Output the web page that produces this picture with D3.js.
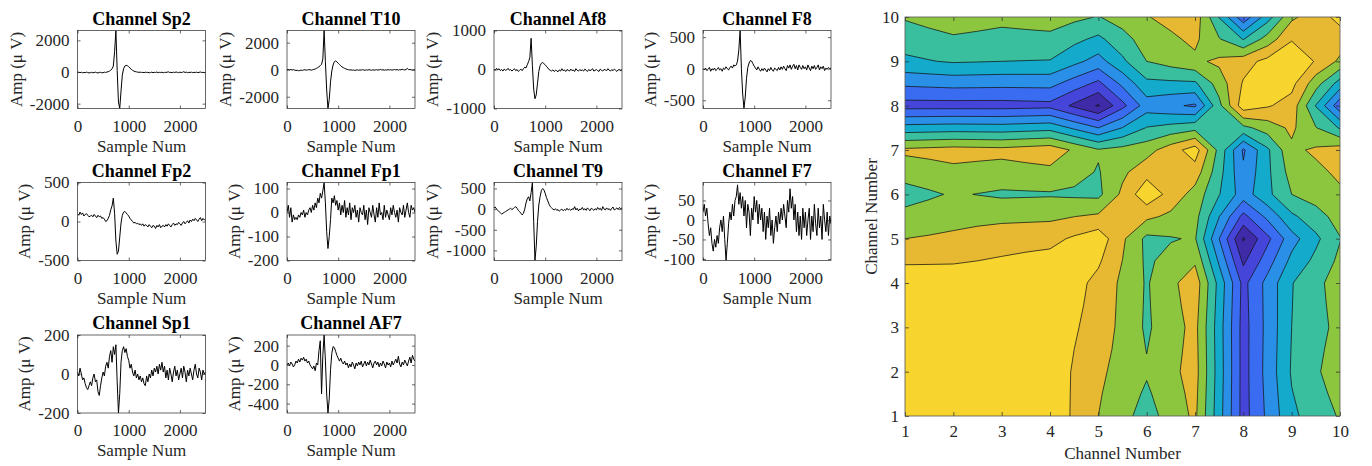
<!DOCTYPE html>
<html>
<head>
<meta charset="utf-8">
<script src="https://cdn.jsdelivr.net/npm/d3@7"></script>
<style>
  html, body { margin: 0; padding: 0; background: #fff; }
  svg { display: block; font-family: "Liberation Serif", "Times New Roman", serif; }
</style>
</head>
<body>
<svg id="fig" width="1372" height="466"></svg>
<script>
// ---------- EEG epochs (one value every 25 samples, 0..2500) ----------
const sampleStep = 25;
const channelNames = ["Sp2", "T10", "Af8", "F8", "Fp2", "Fp1", "T9", "F7", "Sp1", "AF7"];

const ampSp2 = [-30,-10,-40,-20,-50,-30,-40,-10,-30,-60,
  -40,-20,-50,-30,-10,-40,-60,-30,-20,-50,
  -40,-10,-30,0,20,60,120,200,380,1300,
  2622,100,-1900,-2305,-1200,-200,200,380,420,400,
  330,250,170,110,60,30,10,-10,-20,-10,
  -30,-20,-40,-10,-30,-20,-50,-30,-10,-40,
  -20,-30,0,-40,-20,-30,-10,-50,-20,-30,
  -10,10,-30,-20,-40,-10,-30,0,-20,-40,
  -10,-30,-20,20,-30,-10,-40,-20,-30,-10,
  -40,-20,-30,-10,-40,-20,0,-30,-20,-40,
  -20];
const ampT10 = [0,20,-10,10,-20,0,-30,-60,-40,-80,
  -60,-30,-50,-20,0,-40,-20,10,-10,-30,
  -10,20,50,100,150,220,300,400,800,2900,
  600,-1500,-2870,-2200,-900,-100,350,600,650,580,
  480,380,300,200,150,100,60,20,0,-20,
  -10,-40,-20,-50,-30,-10,-40,-20,-30,0,
  -20,-40,-10,-30,0,-20,-40,-10,-30,-20,
  0,-30,-10,20,-20,0,-40,-10,-30,10,
  -20,0,-30,-10,20,-20,10,-30,0,-10,
  30,0,-20,10,100,0,20,-10,-30,0,
  -20];
const ampAf8 = [0,-20,30,-10,20,-30,0,-40,10,-20,
  -10,30,-20,0,-40,-10,20,-30,0,-50,
  -20,10,-30,20,60,40,120,200,300,800,
  100,-500,-750,-650,-350,-50,100,160,180,150,
  120,80,40,0,-20,-40,-10,-50,-20,-30,
  -60,-10,-40,20,-30,-10,-50,0,-20,-40,
  10,-30,-10,-50,20,-20,-40,0,-30,-10,
  -40,10,-20,-50,0,-30,-10,20,-40,-20,
  0,-30,-50,10,-20,-40,0,-10,-30,20,
  -20,-40,0,-30,10,-20,-50,-10,0,-30,
  -10];
const ampF8 = [0,-20,10,-30,-10,20,-40,0,-20,10,
  -30,-10,20,-20,0,-40,10,-10,30,0,
  -20,20,40,10,60,40,60,120,300,605,
  0,-400,-630,-450,-150,20,90,130,120,80,
  40,10,-20,30,-10,-40,0,-30,10,-20,
  -50,0,-30,20,-20,-40,10,-10,-30,20,
  -20,30,-10,40,0,-30,50,10,60,-10,
  40,70,0,50,-20,60,20,-10,50,0,
  30,-20,60,10,-30,40,0,50,-10,20,
  60,-20,30,0,40,-30,10,-10,20,0,
  10];
const ampFp2 = [100,80,120,90,110,70,90,100,80,60,
  70,80,60,90,70,50,80,60,70,40,
  50,30,0,10,40,80,150,200,300,100,
  -250,-420,-380,-200,-20,80,120,130,110,90,
  70,40,20,0,-20,-10,-30,-20,-40,-30,
  -50,-30,-60,-40,-50,-70,-40,-60,-80,-50,
  -60,-90,-50,-70,-40,-80,-60,-50,-70,-40,
  -60,-30,-50,-70,-40,-20,-50,-30,-40,-10,
  -30,-50,-20,0,-30,-10,10,-20,20,0,
  30,10,40,20,0,30,50,10,40,20,
  30];
const ampFp1 = [0,30,-20,20,-40,-10,-30,-20,-30,-10,
  -20,0,-10,10,-20,0,-10,10,20,0,
  30,10,40,20,60,40,80,60,90,125,
  40,-80,-150,-100,-30,60,40,70,30,50,
  10,40,-10,30,0,50,-20,20,-10,40,
  -30,20,0,30,-20,10,-40,20,0,-10,
  30,-30,10,-50,20,0,-20,30,-10,-40,
  20,-20,40,-10,0,-30,30,-20,10,-10,
  -30,20,-10,30,0,-20,10,-40,20,0,
  -10,30,-20,10,40,0,-20,30,10,20,
  0];
const ampT9 = [30,50,0,-30,-60,-90,-120,-100,-80,-60,
  -40,-20,0,20,-10,10,40,60,20,-30,
  -60,-100,-140,-100,0,150,250,300,200,400,
  645,-300,-1245,-900,-300,100,300,450,500,470,
  380,280,200,120,60,30,0,-20,10,-30,
  -10,-50,-20,0,-40,-10,-30,20,-20,0,
  -30,10,-10,60,-20,20,-40,0,-10,40,
  -20,10,-30,30,-10,-40,20,0,-30,10,
  -20,40,-10,20,-30,60,0,-20,30,-10,
  10,-30,20,50,-20,0,30,-10,40,10,
  30];
const ampF7 = [20,40,10,30,-10,-40,-20,-60,-80,-50,
  -70,-40,-60,-20,0,-30,10,-50,-104,-60,
  -10,20,0,40,10,50,60,90,40,70,
  30,60,10,50,-20,40,20,-40,30,0,
  60,20,50,-10,40,0,30,-30,20,-50,
  10,-20,30,-40,0,-60,-20,10,-30,20,
  -10,30,0,40,10,-20,50,20,80,30,
  60,0,40,-30,20,-40,10,-50,30,-20,
  20,-40,0,30,-50,10,-30,40,-10,-40,
  30,-20,10,-50,40,0,-30,20,-40,10,
  -10];
const ampSp1 = [10,-10,30,0,-30,-20,-50,-70,-80,-60,
  -40,-60,-20,0,-40,-30,-90,-110,-60,-20,
  10,-10,40,60,30,90,120,60,140,100,
  150,-40,-200,-100,60,120,140,110,130,90,
  70,30,50,10,-10,20,-20,0,-30,-10,
  -40,-20,-50,-60,-10,-40,0,-20,20,-10,
  30,10,40,0,50,20,60,10,40,-20,
  20,-30,30,0,-40,10,40,-10,20,-30,
  0,30,-20,40,10,-40,20,-10,30,0,
  -30,20,50,0,-20,30,10,-30,20,0,
  10];
const ampAF7 = [0,20,-10,30,10,-20,0,40,20,60,
  30,70,50,80,40,60,20,40,0,-20,
  -40,-10,-60,20,0,150,250,-300,100,310,
  50,-300,-497,-350,-50,120,190,180,140,100,
  70,40,70,30,10,40,0,20,-30,10,
  -20,30,0,-40,20,-10,30,0,40,-20,
  10,40,-10,30,0,50,10,-30,20,40,
  0,30,-20,20,-10,40,10,-30,30,0,
  20,-20,40,0,30,60,20,90,10,-20,
  30,0,50,20,-10,40,80,20,100,60,
  40];

const traces = [ampSp2, ampT10, ampAf8, ampF8, ampFp2, ampFp1, ampT9, ampF7, ampSp1, ampAF7];
const yLimits = [[-2305, 2622], [-2870, 2900], [-1000, 1000], [-630, 605], [-500, 500],
                 [-200, 125], [-1245, 645], [-104, 96], [-200, 200], [-497, 310]];
const yTickValues = [[-2000, 0, 2000], [-2000, 0, 2000], [-1000, 0, 1000], [-500, 0, 500], [-500, 0, 500],
                     [-200, -100, 0, 100], [-1000, -500, 0, 500], [-100, -50, 0, 50], [-200, 0, 200], [-400, -200, 0, 200]];
const xTickValues = [0, 1000, 2000];
const sampleMax = 2500;

// ---------- channel-by-channel matrix (row = vertical channel 1..10) ----------
const channelTicks = [1, 2, 3, 4, 5, 6, 7, 8, 9, 10];
const matrixRows = [
  [9.7, 9.8, 9.8, 9.7, 8.0, 6.6, 8.2, 2.6, 5.8, 7.1],
  [9.8, 10.0, 9.8, 9.6, 8.2, 7.1, 8.4, 2.6, 6.1, 7.6],
  [9.8, 9.8, 10.0, 9.6, 8.6, 6.85, 8.3, 2.6, 6.0, 7.3],
  [9.7, 9.6, 9.6, 10.0, 8.7, 6.9, 8.6, 2.7, 5.95, 7.5],
  [8.0, 8.2, 8.6, 8.7, 9.6, 6.75, 7.1, 0.9, 4.6, 6.95],
  [6.6, 7.1, 6.85, 6.9, 6.75, 9.7, 7.6, 4.5, 7.0, 7.85],
  [8.2, 8.4, 8.3, 8.6, 7.1, 7.6, 9.5, 3.85, 7.8, 8.5],
  [2.6, 2.6, 2.6, 2.7, 0.9, 4.5, 3.85, 9.6, 8.6, 3.3],
  [5.8, 6.1, 6.0, 5.95, 4.6, 7.0, 7.8, 8.6, 10.0, 7.8],
  [7.1, 7.6, 7.3, 7.5, 6.95, 7.95, 8.6, 3.3, 7.8, 9.3]
];
const contourLevels = [1, 2, 3, 4, 5, 6, 7, 8, 9];
const bandColors = ["#3b1c8c", "#3f2ba8", "#4645da", "#3a6cf2", "#2a8fe6",
                    "#14aacb", "#39bf9e", "#8cc63f", "#e7b831", "#f8d42e"];

// ---------- drawing ----------
const svg = d3.select("#fig");
const FONT = 17;
const axisColor = "#262626";
const numFmt = d => String(d);

const panelLeft = [77.5, 287, 494, 703];
const panelTop = [30.5, 182.5, 335];
const panelW = 128, panelH = 78;

function styleAxis(g) {
  g.attr("font-size", null).attr("font-family", null);
  g.select(".domain").remove();
  g.selectAll(".tick line").attr("stroke", axisColor).attr("stroke-width", 0.7);
  g.selectAll(".tick text").attr("fill", axisColor).style("font-size", FONT + "px");
}

traces.forEach((vals, i) => {
  const col = i % 4, row = Math.floor(i / 4);
  const x0 = panelLeft[col], y0 = panelTop[row];
  const x = d3.scaleLinear().domain([0, sampleMax]).range([x0, x0 + panelW]);
  const y = d3.scaleLinear().domain(yLimits[i]).range([y0 + panelH, y0]);
  const g = svg.append("g");

  const clipId = "panel-clip-" + i;
  svg.append("clipPath").attr("id", clipId)
    .append("rect").attr("x", x0).attr("y", y0).attr("width", panelW).attr("height", panelH);

  g.append("path")
    .datum(vals)
    .attr("clip-path", `url(#${clipId})`)
    .attr("fill", "none")
    .attr("stroke", "#000")
    .attr("stroke-width", 1)
    .attr("stroke-linejoin", "round")
    .attr("d", d3.line().x((d, j) => x(j * sampleStep)).y(d => y(d)));

  // bottom / top ticks
  const bx = g.append("g").attr("transform", `translate(0,${y0 + panelH})`)
    .call(d3.axisBottom(x).tickValues(xTickValues).tickSizeInner(-3).tickSizeOuter(0).tickPadding(11).tickFormat(numFmt));
  styleAxis(bx);
  const tx = g.append("g").attr("transform", `translate(0,${y0})`)
    .call(d3.axisTop(x).tickValues(xTickValues).tickSizeInner(-3).tickSizeOuter(0).tickFormat(""));
  styleAxis(tx);

  // left / right ticks
  const ly = g.append("g").attr("transform", `translate(${x0},0)`)
    .call(d3.axisLeft(y).tickValues(yTickValues[i]).tickSizeInner(-3).tickSizeOuter(0).tickPadding(8).tickFormat(numFmt));
  styleAxis(ly);
  const ry = g.append("g").attr("transform", `translate(${x0 + panelW},0)`)
    .call(d3.axisRight(y).tickValues(yTickValues[i]).tickSizeInner(-3).tickSizeOuter(0).tickFormat(""));
  styleAxis(ry);

  g.append("rect").attr("x", x0).attr("y", y0).attr("width", panelW).attr("height", panelH)
    .attr("fill", "none").attr("stroke", axisColor).attr("stroke-width", 0.7);

  // widest y tick label decides where the y label sits
  let maxW = 0;
  ly.selectAll(".tick text").each(function () { maxW = Math.max(maxW, this.getComputedTextLength()); });
  const labelX = x0 - 8 - maxW - 8;
  g.append("text")
    .attr("transform", `translate(${labelX},${y0 + panelH / 2}) rotate(-90)`)
    .attr("text-anchor", "middle")
    .attr("fill", axisColor)
    .style("font-size", FONT + "px")
    .text("Amp (μ V)");

  g.append("text")
    .attr("x", x0 + panelW / 2).attr("y", y0 - 6)
    .attr("text-anchor", "middle")
    .attr("font-weight", "bold")
    .attr("fill", "#000")
    .style("font-size", "18px")
    .text("Channel " + channelNames[i]);

  g.append("text")
    .attr("x", x0 + panelW / 2).attr("y", y0 + panelH + 43)
    .attr("text-anchor", "middle")
    .attr("fill", axisColor)
    .style("font-size", FONT + "px")
    .text("Sample Num");
});

// ---------- filled contour map ----------
const cL = 905, cR = 1340, cT = 17, cB = 416;
const xs = d3.scaleLinear().domain([1, 10]).range([cL, cR]);
const ys = d3.scaleLinear().domain([1, 10]).range([cB, cT]);

// add cell-centre and edge-midpoint samples (bilinear) so saddle cells
// are split by their mean value, keeping the bands polygonal
const k = 2, n = 9 * k + 1;
const fine = new Array(n * n);
for (let r = 0; r < n; r++) {
  const cy = 10 - r / k;
  const yi = Math.min(Math.floor(cy + 1e-9), 9), ty = cy - yi;
  for (let c = 0; c < n; c++) {
    const cx = 1 + c / k;
    const xi = Math.min(Math.floor(cx + 1e-9), 9), txx = cx - xi;
    const v00 = matrixRows[yi - 1][xi - 1], v10 = matrixRows[yi - 1][xi];
    const v01 = matrixRows[yi][xi - 1], v11 = matrixRows[yi][xi];
    fine[r * n + c] = (1 - ty) * ((1 - txx) * v00 + txx * v10) + ty * ((1 - txx) * v01 + txx * v11);
  }
}

const bands = d3.contours().size([n, n]).thresholds(contourLevels)(fine);
const proj = d3.geoTransform({
  point(px, py) { this.stream.point(xs(1 + (px - 0.5) / k), ys(10 - (py - 0.5) / k)); }
});
const geoPath = d3.geoPath(proj);

svg.append("clipPath").attr("id", "map-clip")
  .append("rect").attr("x", cL).attr("y", cT).attr("width", cR - cL).attr("height", cB - cT);

const mapG = svg.append("g").attr("clip-path", "url(#map-clip)");
mapG.append("rect").attr("x", cL).attr("y", cT).attr("width", cR - cL).attr("height", cB - cT)
  .attr("fill", bandColors[0]);
mapG.selectAll("path.band")
  .data(bands)
  .join("path")
  .attr("class", "band")
  .attr("d", geoPath)
  .attr("fill", (d, i) => bandColors[i + 1])
  .attr("stroke", "#141414")
  .attr("stroke-width", 0.75)
  .attr("stroke-linejoin", "round");

const mb = svg.append("g").attr("transform", `translate(0,${cB})`)
  .call(d3.axisBottom(xs).tickValues(channelTicks).tickSizeInner(-4).tickSizeOuter(0).tickPadding(9).tickFormat(numFmt));
styleAxis(mb);
const mt = svg.append("g").attr("transform", `translate(0,${cT})`)
  .call(d3.axisTop(xs).tickValues(channelTicks).tickSizeInner(-4).tickSizeOuter(0).tickFormat(""));
styleAxis(mt);
const ml = svg.append("g").attr("transform", `translate(${cL},0)`)
  .call(d3.axisLeft(ys).tickValues(channelTicks).tickSizeInner(-4).tickSizeOuter(0).tickPadding(6).tickFormat(numFmt));
styleAxis(ml);
const mr = svg.append("g").attr("transform", `translate(${cR},0)`)
  .call(d3.axisRight(ys).tickValues(channelTicks).tickSizeInner(-4).tickSizeOuter(0).tickFormat(""));
styleAxis(mr);

svg.append("rect").attr("x", cL).attr("y", cT).attr("width", cR - cL).attr("height", cB - cT)
  .attr("fill", "none").attr("stroke", "#555").attr("stroke-width", 0.8);

svg.append("text")
  .attr("x", (cL + cR) / 2).attr("y", 459)
  .attr("text-anchor", "middle").attr("fill", axisColor)
  .style("font-size", FONT + "px")
  .text("Channel Number");
svg.append("text")
  .attr("transform", `translate(877,${(cT + cB) / 2}) rotate(-90)`)
  .attr("text-anchor", "middle").attr("fill", axisColor)
  .style("font-size", FONT + "px")
  .text("Channel Number");
</script>
</body>
</html>
